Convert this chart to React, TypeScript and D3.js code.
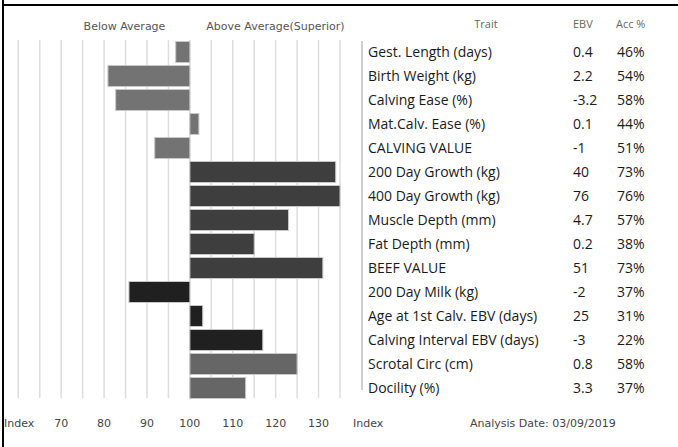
import React from "react";
import * as d3 from "d3";

const traits = [
  "Gest. Length (days)",
  "Birth Weight (kg)",
  "Calving Ease (%)",
  "Mat.Calv. Ease (%)",
  "CALVING VALUE",
  "200 Day Growth (kg)",
  "400 Day Growth (kg)",
  "Muscle Depth (mm)",
  "Fat Depth (mm)",
  "BEEF VALUE",
  "200 Day Milk (kg)",
  "Age at 1st Calv. EBV (days)",
  "Calving Interval EBV (days)",
  "Scrotal Circ (cm)",
  "Docility (%)",
];
const indexValues = [96.7, 80.9, 82.7, 102.1, 91.8, 134, 135, 123, 115, 131, 85.8, 103, 117, 125, 113];
const ebvValues = ["0.4", "2.2", "-3.2", "0.1", "-1", "40", "76", "4.7", "0.2", "51", "-2", "25", "-3", "0.8", "3.3"];
const accValues = ["46%", "54%", "58%", "44%", "51%", "73%", "76%", "57%", "38%", "73%", "37%", "31%", "22%", "58%", "37%"];
const groups = [0, 0, 0, 0, 0, 1, 1, 1, 1, 1, 2, 2, 2, 3, 3];
const groupColors = ["#737373", "#3e3e3e", "#202020", "#666666"];
const gridValues = d3.range(60, 136, 5);
const tickLabels = [70, 80, 90, 100, 110, 120, 130];

const W = 678;
const H = 447;
const LABEL = "DejaVu Sans, Verdana, sans-serif";
const DATA = "'Open Sans', sans-serif";

export default function App() {
  const x = d3.scaleLinear().domain([60, 135]).range([18.3, 340]);
  const y = d3
    .scaleBand<string>()
    .domain(traits)
    .range([40, 400])
    .paddingInner(0.125)
    .paddingOuter(0.0625);
  const bw = y.bandwidth();

  return (
    <svg
      width={W}
      height={H}
      style={{ position: "absolute", left: 0, top: 0, background: "#fff" }}
    >
      <rect x={0} y={0} width={W} height={H} fill="#fff" />
      {/* frame */}
      <line x1={3} y1={0} x2={3} y2={H} stroke="#000" strokeWidth={2} />
      <line x1={2} y1={5} x2={W} y2={5} stroke="#000" strokeWidth={2} />

      {/* header */}
      <text x={124.5} y={30} textAnchor="middle" fontFamily={LABEL} fontSize={11} fill="#555">
        Below Average
      </text>
      <text x={275.5} y={30} textAnchor="middle" fontFamily={LABEL} fontSize={11} fill="#555">
        Above Average(Superior)
      </text>
      <text x={486} y={28} textAnchor="middle" fontFamily={DATA} fontSize={11} fill="#666">
        Trait
      </text>
      <text x={573} y={28} fontFamily={DATA} fontSize={11} fill="#666">
        EBV
      </text>
      <text x={616} y={28} fontFamily={DATA} fontSize={11} fill="#666">
        Acc %
      </text>

      {/* gridlines */}
      {gridValues.map((v) => (
        <line
          key={v}
          x1={x(v)}
          x2={x(v)}
          y1={40}
          y2={398}
          stroke="#dcdcdc"
          strokeWidth={1.5}
        />
      ))}
      {/* separator */}
      <line x1={362} x2={362} y1={41} y2={390} stroke="#cfcfcf" strokeWidth={2} />

      {/* bars */}
      {traits.map((t, i) => {
        const v = indexValues[i];
        const x0 = x(Math.min(100, v));
        const x1 = x(Math.max(100, v));
        return (
          <rect
            key={t}
            x={x0}
            y={y(t)}
            width={x1 - x0}
            height={bw}
            fill={groupColors[groups[i]]}
            stroke="#c8c8c8"
            strokeWidth={1}
          />
        );
      })}

      {/* table text */}
      {traits.map((t, i) => {
        const by = (y(t) as number) + bw / 2 + 4.5;
        return (
          <g key={t} fontFamily={DATA} fontSize={14} fill="#1a1a1a">
            <text x={368} y={by}>{t}</text>
            <text x={573} y={by}>{ebvValues[i]}</text>
            <text x={617} y={by}>{accValues[i]}</text>
          </g>
        );
      })}

      {/* bottom axis */}
      <g fontFamily={LABEL} fontSize={11} fill="#444">
        <text x={4} y={427}>Index</text>
        {tickLabels.map((v) => (
          <text key={v} x={x(v)} y={427} textAnchor="middle">
            {v}
          </text>
        ))}
        <text x={353} y={427}>Index</text>
        <text x={470} y={427}>Analysis Date: 03/09/2019</text>
      </g>
    </svg>
  );
}
